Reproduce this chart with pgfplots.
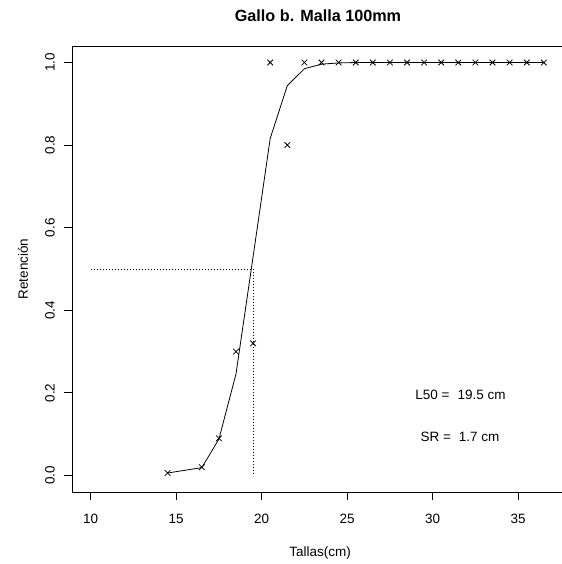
\documentclass[border=0pt]{standalone}
\usepackage{fontspec}
\setmainfont{Liberation Sans}
\usepackage{pgfplots}
\pgfplotsset{compat=1.18}
\begin{document}
\begin{tikzpicture}
\useasboundingbox (-72bp,-72bp) rectangle (490bp,492bp);
\begin{axis}[
  at={(0,0)}, anchor=south west,
  scale only axis, width=502.6bp, height=446bp,
  xmin=8.91, xmax=38.3, ymin=-0.04, ymax=1.04,
  xtick={10,15,20,25,30,35}, xticklabels={10,15,20,25,30,35},
  ytick={0,0.2,0.4,0.6,0.8,1.0}, yticklabels={0.0,0.2,0.4,0.6,0.8,1.0},
  xtick pos=left, ytick pos=left, tick align=outside,
  major tick length=7.5bp,
  tick style={black, line width=0.8pt},
  axis line style={black, line width=0.8pt},
  xticklabel style={font=\fontsize{13.5bp}{15bp}\selectfont, inner sep=0pt, anchor=north, yshift=-14.5bp},
  yticklabel style={font=\fontsize{13.5bp}{15bp}\selectfont, inner sep=0pt, rotate=90, anchor=south, yshift=9.5bp},
  clip=false,
]
\addplot[black, line width=0.8pt, dash pattern=on 1bp off 2bp] coordinates {(10,0.5) (19.5,0.5) (19.5,0)};
\addplot[black, line width=0.8pt, mark=none] coordinates {
(14.5,0.006) (16.5,0.019) (17.5,0.088) (18.5,0.246) (19.5,0.53) (20.5,0.816) (21.5,0.944) (22.5,0.985) (23.5,0.996) (24.5,0.999) (25.5,1) (26.5,1) (27.5,1) (28.5,1) (29.5,1) (30.5,1) (31.5,1) (32.5,1) (33.5,1) (34.5,1) (35.5,1) (36.5,1)};
\addplot[only marks, mark=x, mark size=4bp, mark options={black, line width=0.8pt}] coordinates {
(14.5,0.006) (16.5,0.02) (17.5,0.09) (18.5,0.30) (19.5,0.32) (20.5,1) (21.5,0.80) (22.5,1) (23.5,1) (24.5,1) (25.5,1) (26.5,1) (27.5,1) (28.5,1) (29.5,1) (30.5,1) (31.5,1) (32.5,1) (33.5,1) (34.5,1) (35.5,1) (36.5,1)};
\node[font=\fontsize{13.5bp}{15bp}\selectfont] at (axis cs:31.63,0.195) {L50 =\hspace{8bp}19.5 cm};
\node[font=\fontsize{13.5bp}{15bp}\selectfont] at (axis cs:31.6,0.094) {SR =\hspace{8bp}1.7 cm};
\end{axis}
\node[font=\fontsize{16.2bp}{18bp}\selectfont\bfseries] at (246bp,476bp) {Gallo b. Malla 100mm};
\node[font=\fontsize{13.5bp}{15bp}\selectfont] at (248bp,-61bp) {Tallas(cm)};
\node[font=\fontsize{13.5bp}{15bp}\selectfont, rotate=90] at (-49bp,223bp) {Retención};
\end{tikzpicture}
\end{document}
